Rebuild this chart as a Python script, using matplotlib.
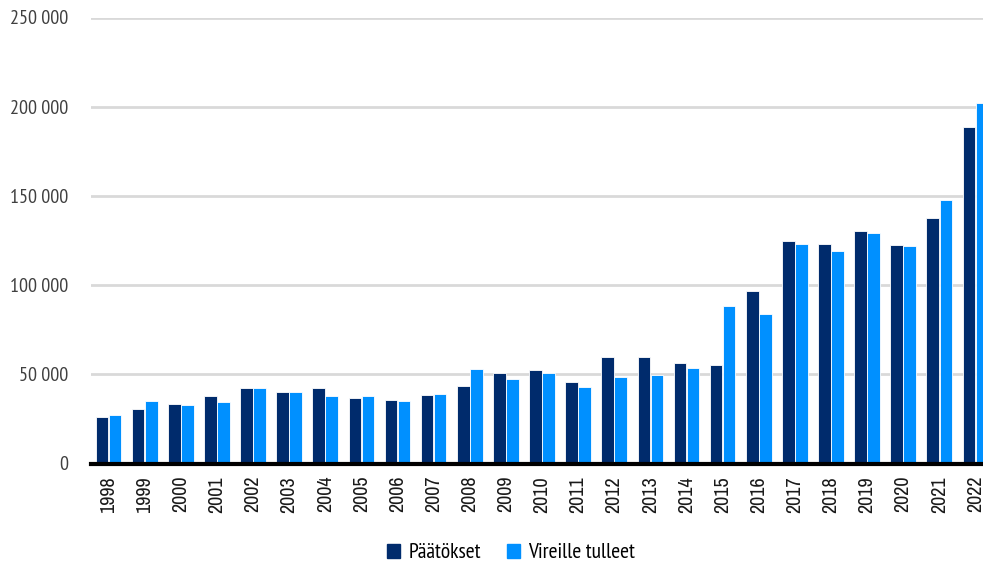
import matplotlib
matplotlib.use("Agg")
import matplotlib.pyplot as plt
from matplotlib.patches import Patch
from matplotlib.ticker import FuncFormatter
import numpy as np

years = [str(y) for y in range(1998, 2023)]
paatokset = [26300, 30600, 33400, 37700, 42200, 39800, 42500, 36800, 35700, 38500,
             43300, 50500, 52400, 45700, 59900, 59500, 56200, 55000, 96700, 124500,
             123200, 130300, 122500, 137800, 188800]
vireille = [27400, 35100, 33000, 34200, 42400, 39800, 37900, 38100, 35100, 38800,
            53000, 47400, 50500, 42700, 48300, 49800, 53700, 88100, 83800, 122800,
            119000, 129000, 121800, 147700, 202100]
series_names = ["Päätökset", "Vireille tulleet"]
yticks = [0, 50000, 100000, 150000, 200000, 250000]

DARK = "#002B6C"
LIGHT = "#0090FF"
AXIS_FONT = ["PT Sans Narrow", "DejaVu Sans"]
YEAR_FONT = ["Archivo Narrow", "DejaVu Sans"]

W, H = 983, 567
fig = plt.figure(figsize=(W / 100, H / 100), dpi=100)
left, right, top, bottom = 90.5, 993.5, 17.5, 463.5
ax = fig.add_axes([left / W, 1 - bottom / H, (right - left) / W, (bottom - top) / H])

x = np.arange(len(years))
bw = 0.35
ax.bar(x - 0.18, paatokset, width=bw, color=DARK, edgecolor="white", linewidth=0.6, zorder=3)
ax.bar(x + 0.18, vireille, width=bw, color=LIGHT, edgecolor="white", linewidth=0.6, zorder=3)

ax.set_xlim(-0.5, len(years) - 0.5)
ax.set_ylim(0, 250000)
ax.set_yticks(yticks)
ax.yaxis.set_major_formatter(FuncFormatter(lambda v, p: f"{int(v):,}".replace(",", " ")))
ax.grid(axis="y", color="#D9D9D9", linewidth=2, zorder=0)
ax.set_axisbelow(True)

for s in ["top", "right", "left"]:
    ax.spines[s].set_visible(False)
ax.spines["bottom"].set_color("black")
ax.spines["bottom"].set_linewidth(3)
ax.spines["bottom"].set_zorder(5)

ax.set_xticks(x)
ax.set_xticklabels(years, rotation=90, family=YEAR_FONT)
for lab in ax.get_yticklabels():
    lab.set_family(AXIS_FONT)
ax.tick_params(axis="x", length=0, pad=9, labelsize=14.5, labelcolor="#1A1A1A")
ax.tick_params(axis="y", length=0, pad=16, labelsize=14.5, labelcolor="#404040")

handles = [Patch(color=DARK), Patch(color=LIGHT)]
fig.legend(handles, series_names, loc="center", bbox_to_anchor=(511 / W, 1 - 553 / H),
           ncol=2, frameon=False, handlelength=0.6, handleheight=0.65,
           columnspacing=1.2, handletextpad=0.4,
           prop=dict(family=AXIS_FONT, size=15.5))

fig.savefig("out.png", dpi=100)
